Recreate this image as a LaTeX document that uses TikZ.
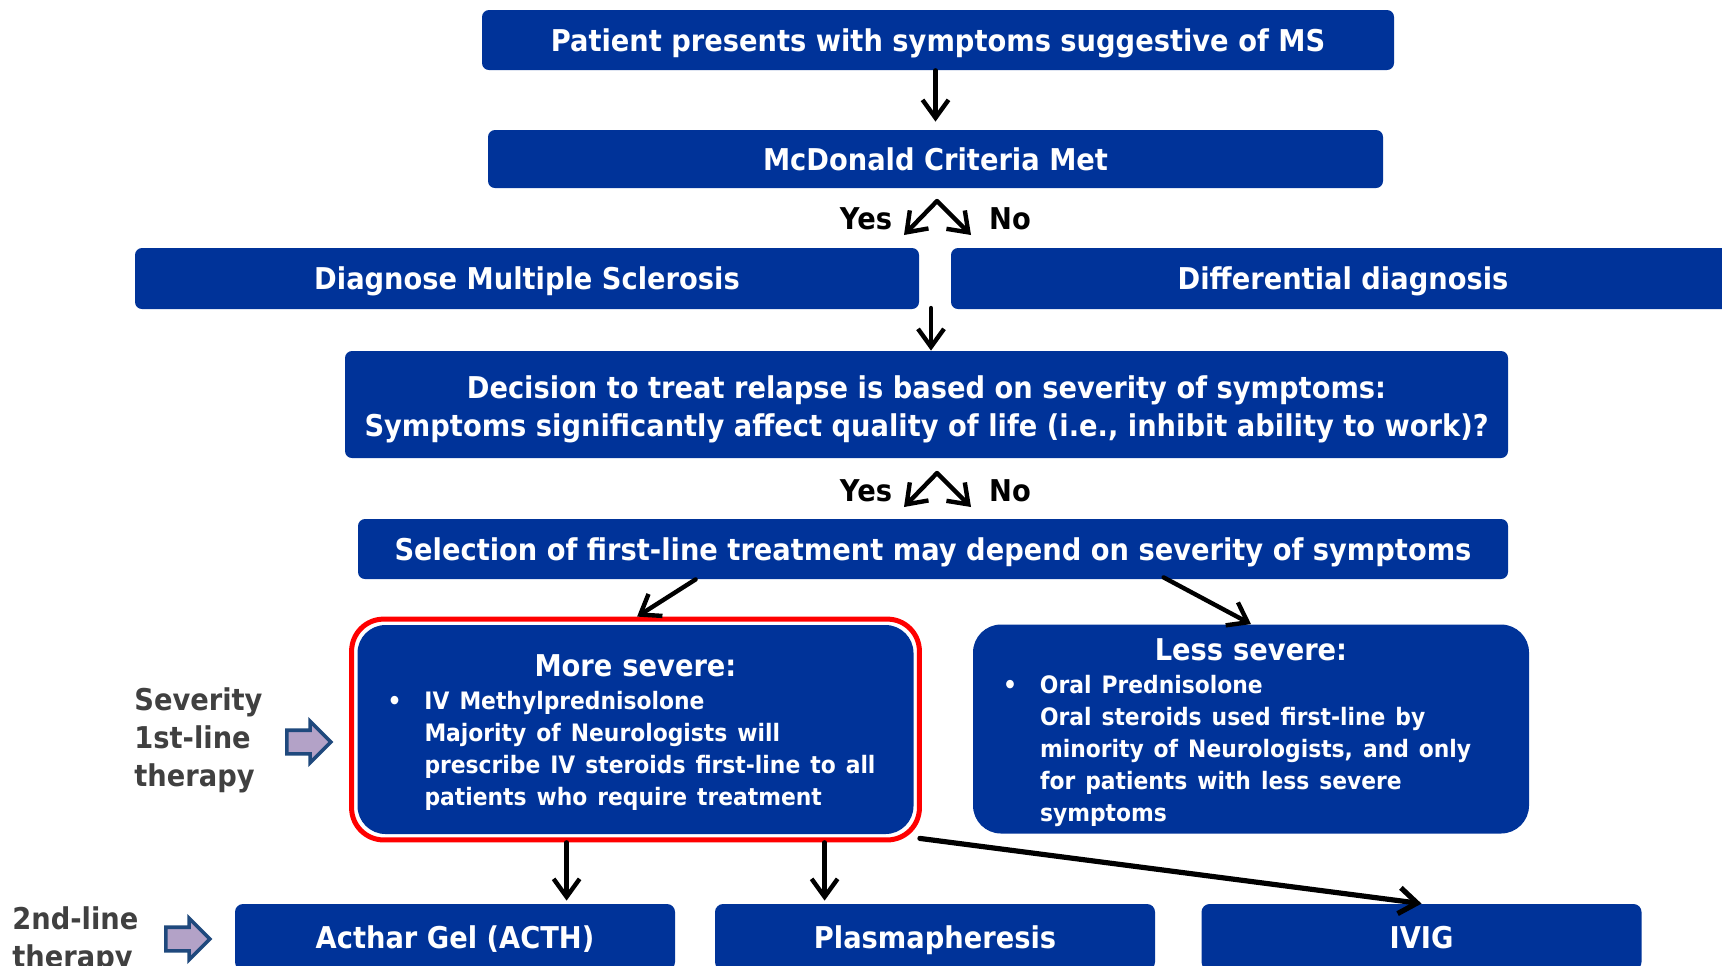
\documentclass[tikz,border=0pt]{standalone}
\usepackage{fontspec}
\setmainfont[FakeStretch=0.91]{DejaVu Sans}
\usepackage{tikz}
\usetikzlibrary{arrows.meta,fit,shapes.arrows}

\definecolor{msblue}{RGB}{0,51,153}
\definecolor{sidegray}{RGB}{64,64,64}
\definecolor{pointfill}{RGB}{179,162,199}
\definecolor{pointline}{RGB}{31,73,125}

% bullet with hanging lines
\newcommand{\bulletlines}[1]{{\fontsize{12}{16}\selectfont\begin{tabular}{@{}p{18.5pt}@{}l@{}}#1\end{tabular}}}

\begin{document}
\begin{tikzpicture}[x=0.5pt, y=-0.5pt,
  every node/.style={font=\bfseries\fontsize{15}{19}\selectfont},
  box/.style={fill=msblue, text=white, rounded corners=3.5pt, inner sep=0pt, align=center},
  onebox/.style={box, text height=11pt, text depth=0pt},
  sevbox/.style={fill=msblue, text=white, rounded corners=14pt, inner xsep=15pt, inner ysep=0pt,
    text width=248pt, align=left, minimum height=104.5pt},
  side/.style={text=sidegray, align=left, anchor=west, inner sep=0pt},
  pointer/.style={single arrow, draw=pointline, fill=pointfill, line width=1.8pt, inner sep=5pt,
    single arrow head extend=4.5pt, minimum height=22pt},
  flow/.style={-{Straight Barb[length=9pt,width=13pt]}, line width=2.2pt, line cap=round, line join=round},
  fork/.style={{Straight Barb[length=9pt,width=13pt]}-{Straight Barb[length=9pt,width=13pt]},
    line width=2.2pt, line cap=round, line join=round}]

\useasboundingbox (0,0) rectangle (1722,965);

% top of the flow
\node[onebox, minimum width=456pt, minimum height=30pt] (pat) at (938,40) {Patient presents with symptoms suggestive of MS};
\node[onebox, minimum width=447.5pt, minimum height=29pt] (mcd) at (935.5,159) {McDonald Criteria Met};

\node (yes1) at (866,219) {Yes};
\node (no1) at (1010,219) {No};
\coordinate (apex1) at (937,201);
\coordinate (yesend1) at (904,235);
\coordinate (noend1) at (971,235);

\node[onebox, minimum width=392pt, minimum height=30.5pt] (diag) at (527,278.5) {Diagnose Multiple Sclerosis};
\node[onebox, minimum width=392pt, minimum height=30.5pt] (diff) at (1343,278.5) {Differential diagnosis};
\coordinate (gap) at (931,308);

\node[box, minimum width=581.5pt, minimum height=53.5pt] (dec) at (926.5,404.5)
  {\rule{0pt}{15.8pt}Decision to treat relapse is based on severity of symptoms:\\
   Symptoms significantly affect quality of life (i.e., inhibit ability to work)?};

\node (yes2) at (866,491) {Yes};
\node (no2) at (1010,491) {No};
\coordinate (apex2) at (937,473);
\coordinate (yesend2) at (904,507);
\coordinate (noend2) at (971,507);

\node[onebox, minimum width=575pt, minimum height=30pt] (sel) at (933,549) {Selection of first-line treatment may depend on severity of symptoms};

% severity boxes
\node[sevbox] (more) at (635.5,729.5) {\makebox[248pt]{\rule{0pt}{16.5pt}More severe:}\\[4pt]
  \bulletlines{\textbullet & IV Methylprednisolone\\
    & Majority of Neurologists will\\
    & prescribe IV steroids first-line to all\\
    & patients who require treatment}};
\node[fit=(more), draw=red, line width=2.5pt, rounded corners=16pt, inner sep=2.75pt] (sevred) {};

\node[sevbox] (less) at (1251,729) {\makebox[248pt]{\rule{0pt}{16.5pt}Less severe:}\\[4pt]
  \bulletlines{\textbullet & Oral Prednisolone\\
    & Oral steroids used first-line by\\
    & minority of Neurologists, and only\\
    & for patients with less severe\\
    & symptoms}};

% second line
\node[onebox, rounded corners=4pt, minimum width=220pt, minimum height=33pt] (acthar) at (455,937) {Acthar Gel (ACTH)};
\node[onebox, rounded corners=4pt, minimum width=220pt, minimum height=33pt] (plasma) at (935,937) {Plasmapheresis};
\node[onebox, rounded corners=4pt, minimum width=220pt, minimum height=33pt] (ivig) at (1421.5,937) {IVIG};
\coordinate (acthartop) at ([xshift=166pt]acthar.north west);
\coordinate (plasmatop) at ([xshift=55pt]plasma.north west);

% side labels
\node[side] (sevlabel) at (134,740) {Severity\\1st-line\\therapy};
\node[pointer] (sevpoint) at (303,742) {};
\node[side] (seclabel) at (12,940) {2nd-line\\therapy};
\node[pointer] (secpoint) at (182,939) {};

% connectors
\draw[flow, shorten >=4pt] (pat.south -| mcd.north) -- (mcd.north);
\draw[fork] (yesend1) -- (apex1) -- (noend1);
\draw[flow] (gap) -- (gap |- dec.north);
\draw[fork] (yesend2) -- (apex2) -- (noend2);
\draw[flow] ([xshift=169pt]sel.south west) -- ([xshift=144pt]sevred.north west);
\draw[flow] ([xshift=403pt,yshift=1pt]sel.south west) -- (less.north);
\draw[flow, shorten >=1.5pt] (sevred.south -| acthartop) -- (acthartop);
\draw[flow, shorten >=1.5pt] (sevred.south -| plasmatop) -- (plasmatop);
\draw[flow, line width=2.6pt] ([xshift=-1pt,yshift=2pt]sevred.south east) -- (ivig.north);
\end{tikzpicture}
\end{document}
